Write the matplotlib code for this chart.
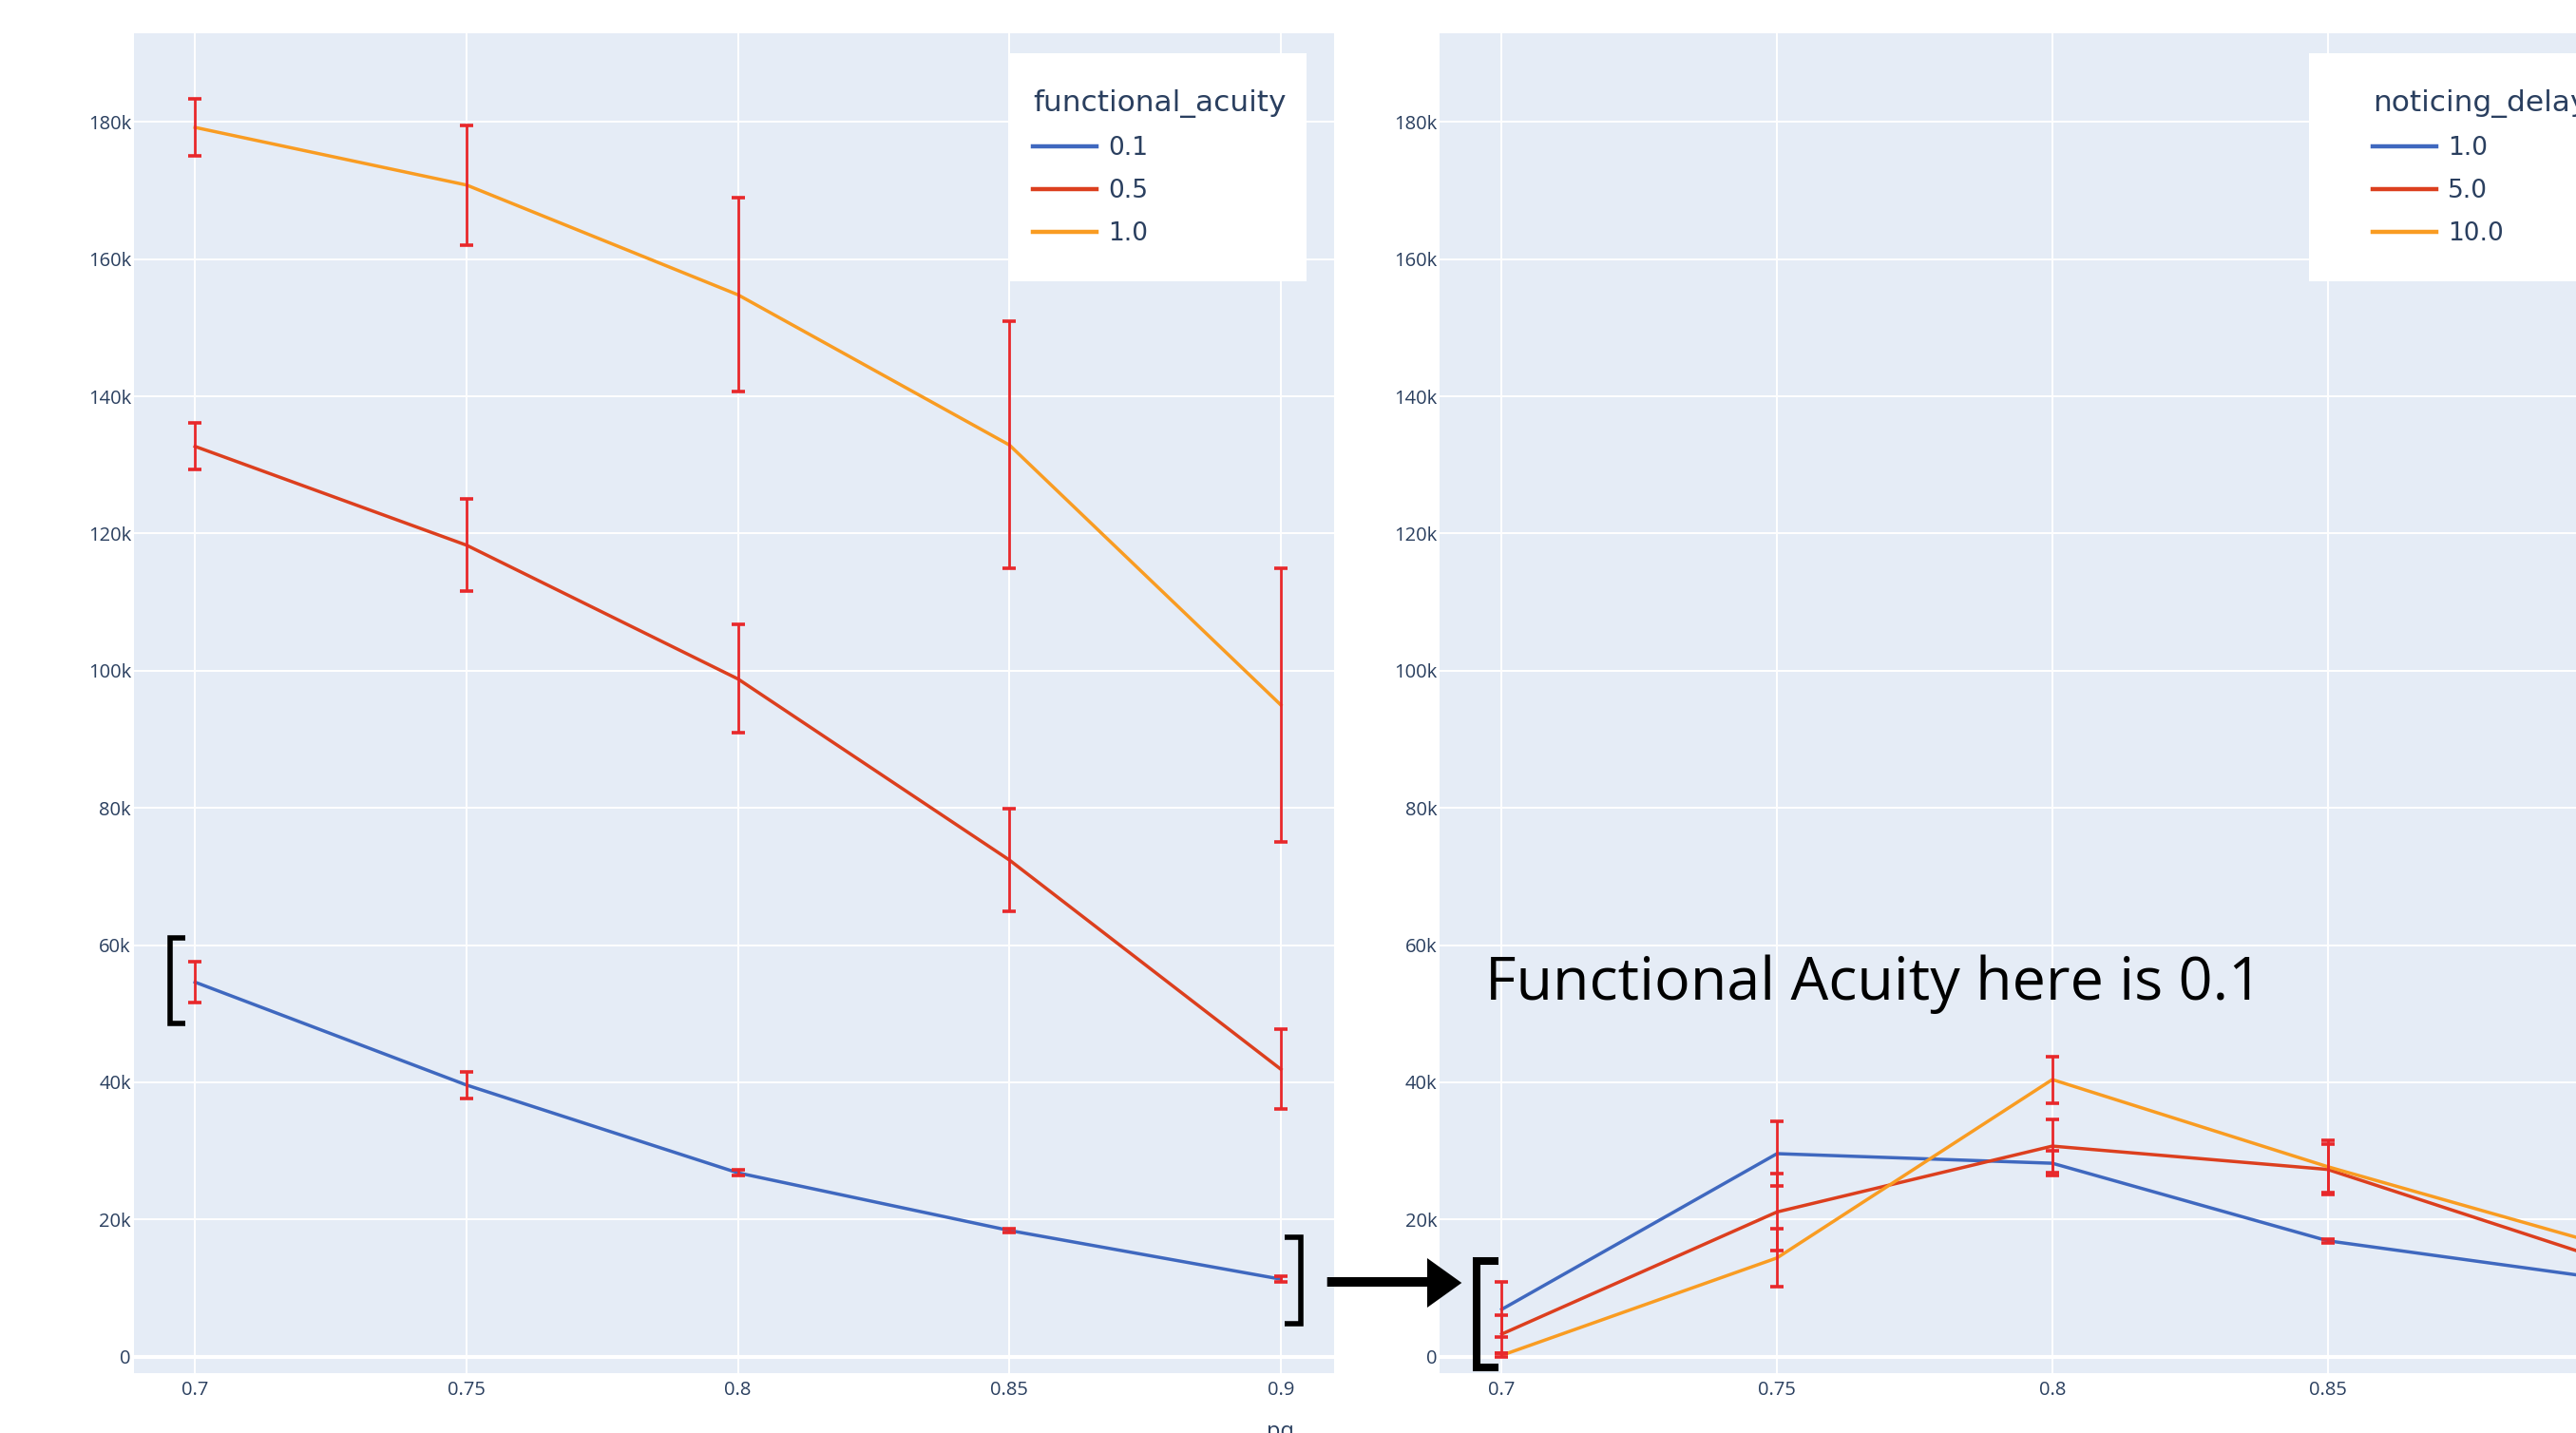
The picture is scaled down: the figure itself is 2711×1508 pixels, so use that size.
import numpy as np
import matplotlib.pyplot as plt
import matplotlib.transforms as mtransforms
from matplotlib.patches import Rectangle, Polygon
from matplotlib.lines import Line2D
from matplotlib.ticker import FuncFormatter, MultipleLocator

plt.rcParams['font.family'] = ['Open Sans', 'DejaVu Sans']

W, H = 2711, 1508

# x values (pq)
pq = [0.7, 0.75, 0.8, 0.85, 0.9]
pq_ticks = [0.7, 0.75, 0.8, 0.85, 0.9]
pq_ticklabels = ['0.7', '0.75', '0.8', '0.85', '0.9']

# left panel: functional_acuity (values in thousands)
acuity_labels = ['0.1', '0.5', '1.0']
acuity_mean = [
    [54.6, 39.6, 26.8, 18.4, 11.3],
    [132.7, 118.3, 98.8, 72.4, 41.9],
    [179.2, 170.8, 154.8, 132.9, 95.0],
]
acuity_err = [
    [3.0, 1.9, 0.4, 0.3, 0.4],
    [3.4, 6.7, 7.9, 7.5, 5.8],
    [4.1, 8.7, 14.1, 18.0, 20.0],
]

# right panel: noticing_delay (functional acuity 0.1)
delay_labels = ['1.0', '5.0', '10.0']
delay_mean = [
    [6.9, 29.6, 28.2, 16.9, 11.4],
    [3.3, 21.1, 30.7, 27.3, 14.2],
    [0.2, 14.4, 40.4, 27.7, 16.3],
]
delay_err = [
    [4.0, 4.7, 1.8, 0.3, 0.4],
    [2.8, 5.6, 3.9, 3.7, 1.5],
    [0.3, 4.2, 3.4, 3.8, 2.0],
]

colores = ['#3F68BF', '#DC3F1E', '#F99C22']
color_error = '#E8282B'
color_texto = '#2a3f5f'
fondo = '#E5ECF6'

fig = plt.figure(figsize=(W / 100, H / 100), dpi=100)
# transformacion en pixeles, y desde arriba
px = mtransforms.Affine2D().scale(1 / W, -1 / H).translate(0, 1) + fig.transFigure

ax1 = fig.add_axes([140.7 / W, 63 / H, 1263.3 / W, 1410 / H])
ax2 = fig.add_axes([1515 / W, 63 / H, 1288 / W, 1410 / H])

fmt_k = FuncFormatter(lambda v, p: '0' if abs(v) < 1 else f'{int(round(v / 1000))}k')

for ax, medias, errores in [(ax1, acuity_mean, acuity_err), (ax2, delay_mean, delay_err)]:
    ax.set_facecolor(fondo)
    for s in ax.spines.values():
        s.set_visible(False)
    for media, err, c in zip(medias, errores, colores):
        y = np.array(media) * 1000
        e = np.array(err) * 1000
        ax.plot(pq, y, color=c, lw=2.5, zorder=2)
        ax.errorbar(pq, y, yerr=e, fmt='none', ecolor=color_error, elinewidth=2.0,
                    capsize=5, capthick=2.6, zorder=3)
    ax.set_xlim(0.6887, 0.9098 if ax is ax1 else 0.911)
    ax.set_ylim(-2396, 192923)
    ax.set_xticks(pq_ticks)
    ax.set_xticklabels(pq_ticklabels)
    ax.yaxis.set_major_locator(MultipleLocator(20000))
    ax.yaxis.set_major_formatter(fmt_k)
    ax.grid(color='white', lw=1.4)
    ax.set_axisbelow(True)
    ax.axhline(0, color='white', lw=3, zorder=1)
    ax.tick_params(length=0, labelsize=14.5, labelcolor=color_texto)
    ax.tick_params(axis='x', pad=6)
    ax.tick_params(axis='y', pad=2)


def leyenda(ax, titulo, etiquetas, caja, ancla):
    x0, y0, w, h = caja
    ax.add_patch(Rectangle((x0, y0), w, h, transform=px, facecolor='white',
                           edgecolor='none', zorder=4.5, clip_on=False))
    handles = [Line2D([], [], color=c, lw=3.2) for c in colores]
    ley = ax.legend(handles, etiquetas, title=titulo, loc='upper left',
                    bbox_to_anchor=(ancla[0] / W, 1 - ancla[1] / H),
                    bbox_transform=fig.transFigure, frameon=False,
                    prop={'family': 'DejaVu Sans', 'size': 19},
                    title_fontproperties={'family': 'DejaVu Sans', 'size': 22.5},
                    handlelength=2.54, handletextpad=0.45, labelspacing=0.72,
                    borderpad=0, borderaxespad=0, alignment='left',
                    labelcolor=color_texto)
    ley.get_title().set_color(color_texto)
    ley.set_zorder(5)


leyenda(ax1, 'functional_acuity', acuity_labels, (1062.7, 56, 312, 240), (1087, 94))
leyenda(ax2, 'noticing_delay', delay_labels, (2430, 56, 312, 240), (2497, 94))

# titulo del eje x (cortado abajo)
fig.text(1347, 1512.6, 'pq', transform=px, ha='center', va='baseline',
         fontsize=17, color=color_texto)

# anotaciones agregadas a mano
fig.text(1563, 1051.7, 'Functional Acuity here is 0.1', transform=px,
         ha='left', va='baseline', fontsize=45.3, color='black')


def corchete(xs, ys, grosor):
    fig.add_artist(Line2D(xs, ys, transform=px, color='black', lw=grosor,
                          solid_joinstyle='miter', solid_capstyle='butt'))


corchete([195, 179, 179, 195], [986.5, 986.5, 1076.5, 1076.5], 4.0)
corchete([1351.7, 1369, 1369, 1351.7], [1301.5, 1301.5, 1392.5, 1392.5], 4.0)
corchete([1576.7, 1554, 1554, 1576.7], [1326.7, 1326.7, 1439.3, 1439.3], 5.8)

flecha = Polygon([(1396.7, 1344), (1502, 1344), (1502, 1324), (1538.3, 1350),
                  (1502, 1376), (1502, 1354), (1396.7, 1354)],
                 closed=True, transform=px, facecolor='black', edgecolor='none')
fig.add_artist(flecha)

plt.savefig('out.png', dpi=100)
